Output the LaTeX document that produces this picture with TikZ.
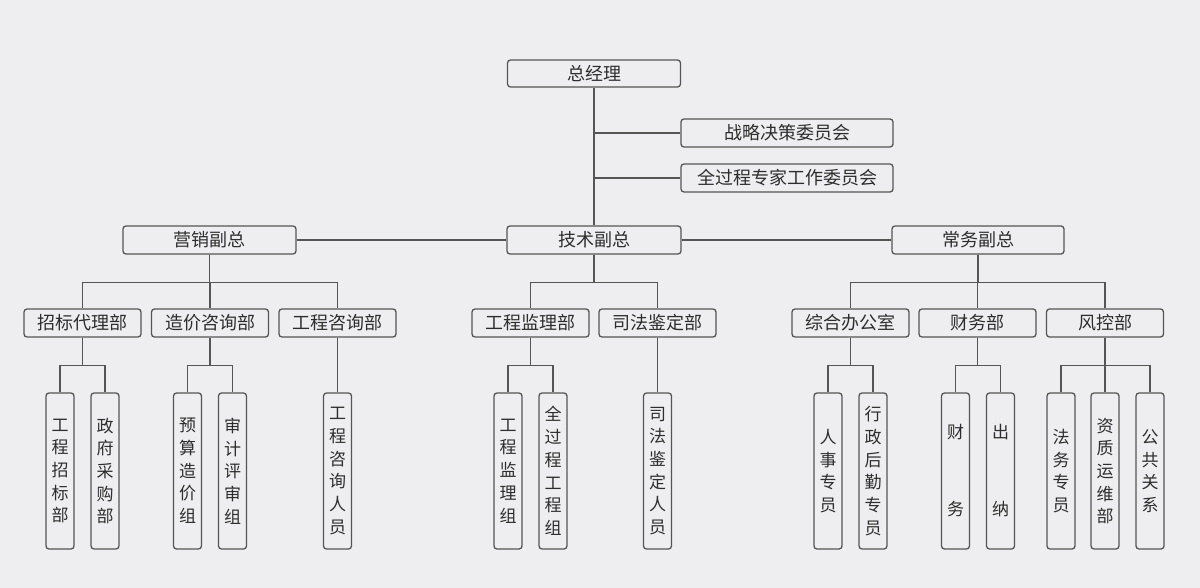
\documentclass[tikz,border=0pt]{standalone}
\usepackage{fontspec}
\newfontfamily\cjk{Noto Sans CJK SC}
\definecolor{bgc}{RGB}{238,238,240}
\definecolor{linec}{RGB}{85,85,85}
\definecolor{textc}{RGB}{45,45,45}
\tikzset{
  box/.style={draw=linec, line width=1.3pt, rounded corners=3pt, inner sep=0pt, text=textc},
  hbox/.style={box, minimum height=28pt, font=\cjk\fontsize{18}{18}\selectfont},
  vbox/.style={box, minimum width=28pt, minimum height=156pt, align=center, font=\cjk\fontsize{17}{22.7}\selectfont},
  conn/.style={draw=linec, line width=1.3pt}
}
\begin{document}
\begin{tikzpicture}[x=1pt,y=-1pt]
\fill[bgc] (0,0) rectangle (1200,588);
\useasboundingbox (0,0) rectangle (1200,588);
% level 0
\node[hbox, minimum width=173pt, minimum height=27pt] (gm) at (594,73.5) {总经理};
\node[hbox, minimum width=212pt] (c1) at (787,133) {战略决策委员会};
\node[hbox, minimum width=212pt] (c2) at (787,178) {全过程专家工作委员会};
% level 1
\node[hbox, minimum width=173pt] (yx) at (209.5,240) {营销副总};
\node[hbox, minimum width=174pt] (js) at (594,240) {技术副总};
\node[hbox, minimum width=172pt] (cw) at (978,240) {常务副总};
% level 2
\node[hbox, minimum width=117pt] (zb) at (82.5,323) {招标代理部};
\node[hbox, minimum width=117pt] (zj) at (210,323) {造价咨询部};
\node[hbox, minimum width=117pt] (gz) at (337.5,323) {工程咨询部};
\node[hbox, minimum width=117pt] (jl) at (530.5,323) {工程监理部};
\node[hbox, minimum width=117pt] (sf) at (657.5,323) {司法鉴定部};
\node[hbox, minimum width=117pt] (zh) at (850.5,323) {综合办公室};
\node[hbox, minimum width=117pt] (cwb) at (977.5,323) {财务部};
\node[hbox, minimum width=117pt] (fk) at (1105,323) {风控部};
% level 3
\node[vbox] (a1) at (60,471) {工\\程\\招\\标\\部};
\node[vbox] (a2) at (105,471) {政\\府\\采\\购\\部};
\node[vbox] (b1) at (187.5,471) {预\\算\\造\\价\\组};
\node[vbox] (b2) at (232.5,471) {审\\计\\评\\审\\组};
\node[vbox] (g1) at (337.5,471) {工\\程\\咨\\询\\人\\员};
\node[vbox] (j1) at (508,471) {工\\程\\监\\理\\组};
\node[vbox] (j2) at (553,471) {全\\过\\程\\工\\程\\组};
\node[vbox] (s1) at (657.5,471) {司\\法\\鉴\\定\\人\\员};
\node[vbox] (h1) at (828,471) {人\\事\\专\\员};
\node[vbox] (h2) at (873,471) {行\\政\\后\\勤\\专\\员};
\node[vbox] (f1) at (955.5,471) {财\\[54.3pt]务};
\node[vbox] (f2) at (1000.5,471) {出\\[54.3pt]纳};
\node[vbox] (k1) at (1061,471) {法\\务\\专\\员};
\node[vbox] (k2) at (1105,471) {资\\质\\运\\维\\部};
\node[vbox] (k3) at (1150,471) {公\\共\\关\\系};
% connectors
\draw[conn] (gm.south) -- (js.north);
\draw[conn] (gm.south |- c1.west) -- (c1.west);
\draw[conn] (gm.south |- c2.west) -- (c2.west);
\draw[conn] (yx.east) -- (js.west);
\draw[conn] (js.east) -- (cw.west);
\foreach \p/\c in {yx/zb, yx/zj, yx/gz, js/jl, js/sf, cw/zh, cw/cwb, cw/fk,
                   zb/a1, zb/a2, zj/b1, zj/b2, gz/g1, jl/j1, jl/j2, sf/s1,
                   zh/h1, zh/h2, cwb/f1, cwb/f2, fk/k1, fk/k2, fk/k3}
  \draw[conn] (\p.south) -- ++(0,28) -| (\c.north);
\end{tikzpicture}
\end{document}
